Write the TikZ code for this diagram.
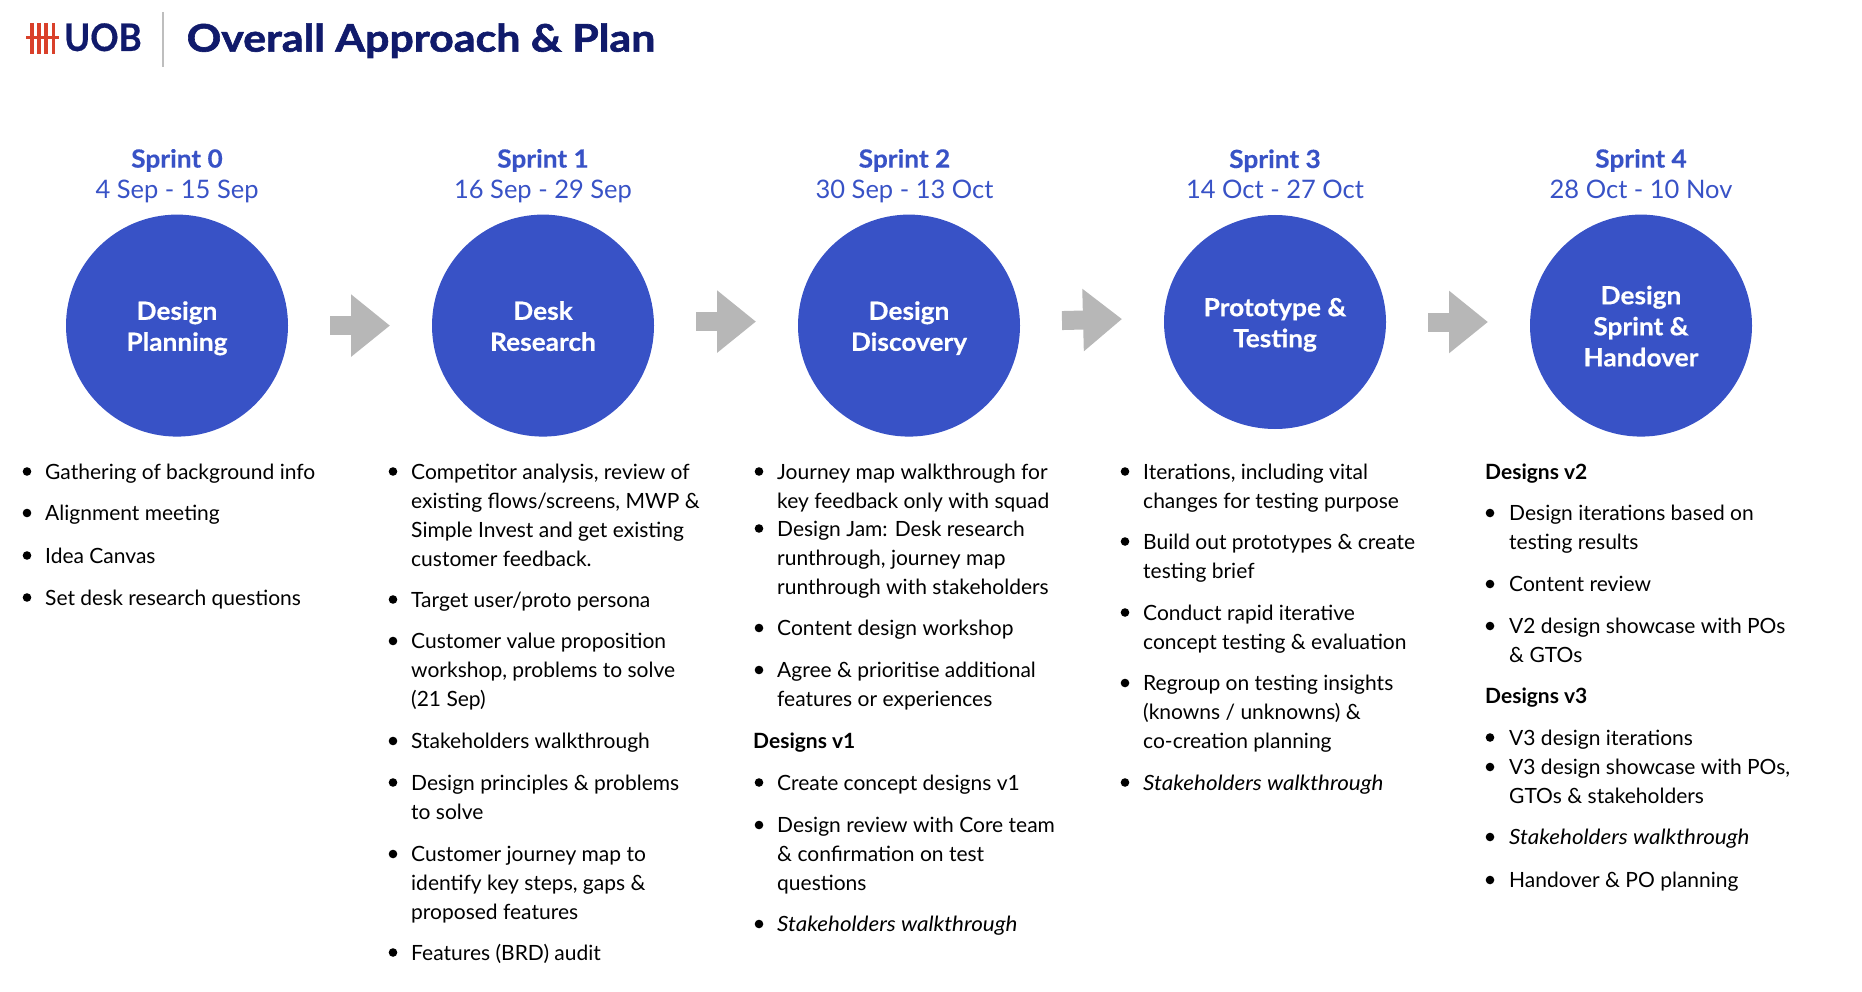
\documentclass[tikz,border=0pt]{standalone}
\usepackage{fontspec}
\usetikzlibrary{arrows.meta,positioning,shapes.geometric}
\setmainfont[ItalicFeatures={FakeStretch=1.068}]{Lato}
\newfontfamily\heavyfont[BoldFeatures={FakeBold=1.6,FakeStretch=1.128}]{Lato}
\newfontfamily\widefont[BoldFeatures={FakeBold=0.4,FakeStretch=1.05}]{Lato}
\definecolor{sprintblue}{RGB}{56,82,198}
\definecolor{navyblue}{RGB}{16,26,107}
\definecolor{logored}{RGB}{217,64,42}
\definecolor{arrowgrey}{RGB}{183,183,183}
\definecolor{rulegrey}{RGB}{190,190,190}
\newcommand{\stagetop}{\rule{0pt}{28.7pt}}

\begin{document}
\begin{tikzpicture}[x=1pt,y=-1pt,
stage/.style={ellipse,fill=sprintblue,text=white,inner sep=0pt,outer sep=0pt,minimum width=222pt,minimum height=222pt,align=center,font=\fontsize{25}{31}\selectfont\widefont\bfseries},
sprintname/.style={text=sprintblue,inner sep=0pt,font=\fontsize{25}{31}\selectfont\widefont\bfseries},
sprintdate/.style={text=sprintblue,inner sep=0pt,font=\fontsize{25.5}{31}\selectfont},
item/.style={anchor=north west,inner sep=0pt,align=left,font=\fontsize{21}{29}\selectfont},
dot/.style={circle,fill=black,inner sep=0pt,minimum size=8.6pt},
flow/.style={-{Triangle[length=39pt,width=60pt]},line width=19pt,arrowgrey,shorten <=42pt,shorten >=42pt}]
\useasboundingbox (0,0) rectangle (1862,992);
% header
\foreach \x in {32,39,46,53.5} \draw[logored,line width=3.4pt] (\x,23) -- (\x,54);
\draw[logored,line width=3.6pt] (26,37.7) -- (58.5,37.7);
\node[anchor=base west,inner sep=0pt,text=navyblue,font=\fontsize{38}{38}\selectfont\widefont\bfseries] (logo) at (64,51) {\scalebox{.88}[1]{UOB}};
\draw[rulegrey,line width=1.6pt] (163,12) -- (163,67);
\node[anchor=base west,inner sep=0pt,text=navyblue,font=\fontsize{38}{38}\selectfont\heavyfont\bfseries] (title) at (186.5,51.6) {Overall Approach \& Plan};
% stages
\node[stage] (c0) at (177,325.6) {\stagetop Design\\\strut Planning};
\node[stage,right=144pt of c0] (c1) {\stagetop Desk\\\strut Research};
\node[stage,right=144pt of c1] (c2) {\stagetop Design\\\strut Discovery};
\node[stage,right=144pt of c2,yshift=3.6pt,minimum height=214pt] (c3) {\stagetop Prototype \&\\\strut Testing};
\node[stage,right=144pt of c3,yshift=-3.6pt] (c4) {\stagetop Design\\\strut Sprint \&\\\strut Handover};
\foreach \i/\dx/\a/\b in {0/0/Sprint 0/4 Sep - 15 Sep,1/0/Sprint 1/16 Sep - 29 Sep,2/-4.5/Sprint 2/30 Sep - 13 Oct,3/0/Sprint 3/14 Oct - 27 Oct,4/0/Sprint 4/28 Oct - 10 Nov}{
\node[sprintdate,above=16pt of c\i.north,anchor=base,xshift=\dx pt] (d\i) {\b};
\node[sprintname,above=31pt of d\i.base,anchor=base] (s\i) {\a};
}
\draw[flow] (c0) -- (c1);
\draw[flow] ([yshift=4pt]c1.east) -- ([yshift=4pt]c2.west);
\draw[flow] ([yshift=4pt]c2.east) -- ([yshift=4pt]c3.west);
\draw[flow] (c3.east) -- (c3.east -| c4.west);
% sprint 0
\foreach \n/\y/\t in {a/471.5/{Gathering of background info},b/513/{Alignment meeting},c/555.5/{Idea Canvas},d/597.5/{Set desk research questions}}{
\node[dot] (b0\n) at (27,\y) {};
\node[item] (i0\n) at (45,\y-12.6) {\strut\t};
}
% sprint 1
\foreach \n/\y/\t in {a/471.5/{Competitor analysis, review of\\existing flows/screens, MWP \&\\Simple Invest and get existing\\customer feedback.},b/599.5/{Target user/proto persona},c/641/{Customer value proposition\\workshop, problems to solve\\(21 Sep)},d/741/{Stakeholders walkthrough},e/782.5/{Design principles \& problems\\to solve},f/854/{Customer journey map to\\identify key steps, gaps \&\\proposed features},g/952.5/{Features (BRD) audit}}{
\node[dot] (b1\n) at (393,\y) {};
\node[item] (i1\n) at (411,\y-12.6) {\strut\t};
}
% sprint 2
\foreach \n/\y/\t in {a/471.5/{Journey map walkthrough for\\key feedback only with squad},b/528.5/{Design Jam: Desk research\\runthrough, journey map\\runthrough with stakeholders},c/628/{Content design workshop},d/670/{Agree \& prioritise additional\\features or experiences},e/782.5/{Create concept designs v1},f/825/{Design review with Core team\\\& confirmation on test\\questions},g/924/{\itshape Stakeholders walkthrough}}{
\node[dot] (b2\n) at (759,\y) {};
\node[item] (i2\n) at (777,\y-12.6) {\strut\t};
}
\node[item] (h1) at (753,741-12.6) {\strut\bfseries Designs v1};
% sprint 3
\foreach \n/\y/\t in {a/471.5/{Iterations, including vital\\changes for testing purpose},b/541.5/{Build out prototypes \& create\\testing brief},c/612.5/{Conduct rapid iterative\\concept testing \& evaluation},d/683/{Regroup on testing insights\\(knowns / unknowns) \&\\co-creation planning},e/782.5/{\itshape Stakeholders walkthrough}}{
\node[dot] (b3\n) at (1125,\y) {};
\node[item] (i3\n) at (1143,\y-12.6) {\strut\t};
}
% sprint 4
\node[item] (h2) at (1485,471.5-12.6) {\strut\bfseries Designs v2};
\node[item] (h3) at (1485,696-12.6) {\strut\bfseries Designs v3};
\foreach \n/\y/\t in {a/513/{Design iterations based on\\testing results},b/584/{Content review},c/626/{V2 design showcase with POs\\\& GTOs},d/737.5/{V3 design iterations},e/767/{V3 design showcase with POs,\\GTOs \& stakeholders},f/837/{\itshape Stakeholders walkthrough},g/880/{Handover \& PO planning}}{
\node[dot] (b4\n) at (1490,\y) {};
\node[item] (i4\n) at (1509,\y-12.6) {\strut\t};
}
\end{tikzpicture}
\end{document}
